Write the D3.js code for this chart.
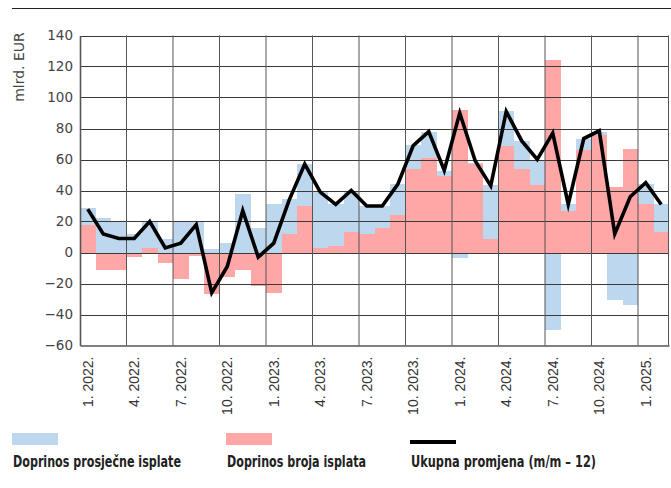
<!DOCTYPE html>
<html>
<head>
<meta charset="utf-8">
<script src="https://cdn.jsdelivr.net/npm/d3@7/dist/d3.min.js"></script>
<style>
  html, body { margin: 0; padding: 0; background: #fff; }
  svg { display: block; }
</style>
</head>
<body>
<svg id="chart" width="671" height="488"></svg>
<script>
// Monthly categories, January 2022 – February 2025
const months = [
  "1. 2022.", "2. 2022.", "3. 2022.", "4. 2022.", "5. 2022.", "6. 2022.",
  "7. 2022.", "8. 2022.", "9. 2022.", "10. 2022.", "11. 2022.", "12. 2022.",
  "1. 2023.", "2. 2023.", "3. 2023.", "4. 2023.", "5. 2023.", "6. 2023.",
  "7. 2023.", "8. 2023.", "9. 2023.", "10. 2023.", "11. 2023.", "12. 2023.",
  "1. 2024.", "2. 2024.", "3. 2024.", "4. 2024.", "5. 2024.", "6. 2024.",
  "7. 2024.", "8. 2024.", "9. 2024.", "10. 2024.", "11. 2024.", "12. 2024.",
  "1. 2025.", "2. 2025."
];

// Contribution of the average payout (mlrd. EUR)
const avgPayout = [
  11, 22, 20, 12, 17, 9, 20, 20, 2, 6, 37.5, 16,
  31, 22.5, 27, 36, 27.5, 27, 18, 14, 20.5, 15.5, 16.5, 3,
  -3.5, 1, 35, 22, 18, 16.5, -50, 4.5, 7, 2, -30.5, -34,
  13, 18
];

// Contribution of the number of payouts (mlrd. EUR)
const payoutCount = [
  18, -11, -11, -3, 3, -6.5, -17, -2, -27, -15.5, -11, -21.5,
  -26, 12, 30, 3, 4, 13, 12, 16, 24, 54, 61, 49.5,
  92, 57, 8.5, 69, 54, 43.5, 124.5, 27, 66, 76, 42.5, 67,
  31.5, 13
];

// Total change, month over month-12 (mlrd. EUR)
const totalChange = [
  28, 12, 9, 9, 20, 3, 6, 18, -26, -9, 27, -3,
  6, 34, 57, 39, 31, 40, 30, 30, 44, 69, 78, 53,
  90, 59, 43, 91, 72, 60, 77, 31, 73.5, 78.5, 12, 36,
  45, 31
];

const yTicks = [-60, -40, -20, 0, 20, 40, 60, 80, 100, 120, 140];
const xTickMonths = ["1. 2022.", "4. 2022.", "7. 2022.", "10. 2022.", "1. 2023.", "4. 2023.",
  "7. 2023.", "10. 2023.", "1. 2024.", "4. 2024.", "7. 2024.", "10. 2024.", "1. 2025."];

const seriesNames = ["Doprinos prosječne isplate", "Doprinos broja isplata", "Ukupna promjena (m/m – 12)"];
const blueFill = "#bdd7ee";
const pinkFill = "#ffa6a6";

const svg = d3.select("#chart");
const plot = { left: 80, right: 669, top: 35.5, bottom: 345.5 };

const x = d3.scaleBand().domain(months).range([plot.left, plot.right]).paddingInner(0).paddingOuter(0);
const y = d3.scaleLinear().domain([-60, 140]).range([plot.bottom, plot.top]);

// Header rule
svg.append("line")
  .attr("x1", 12).attr("x2", 671).attr("y1", 8.5).attr("y2", 8.5)
  .attr("stroke", "#222").attr("stroke-width", 1.2);

// Stacked contributions: positives and negatives stack away from zero
const rows = months.map((m, i) => ({ month: m, count: payoutCount[i], avg: avgPayout[i] }));
const stacked = d3.stack().keys(["count", "avg"]).offset(d3.stackOffsetDiverging)(rows);
const fills = { count: pinkFill, avg: blueFill };

svg.append("g").selectAll("g")
  .data(stacked)
  .join("g")
  .attr("fill", s => fills[s.key])
  .selectAll("rect")
  .data(s => s)
  .join("rect")
  .attr("x", d => x(d.data.month))
  .attr("width", x.bandwidth() + 0.3)
  .attr("y", d => y(Math.max(d[0], d[1])))
  .attr("height", d => Math.abs(y(d[0]) - y(d[1])))
  .attr("shape-rendering", "crispEdges");

// Grid over the bars
const grid = svg.append("g").attr("stroke", "#3a3a3a").attr("stroke-width", 1);
grid.selectAll("line.h")
  .data(yTicks.filter(t => t > -60))
  .join("line")
  .attr("class", "h")
  .attr("x1", plot.left).attr("x2", plot.right)
  .attr("y1", d => Math.round(y(d)) + 0.5).attr("y2", d => Math.round(y(d)) + 0.5);
grid.selectAll("line.v")
  .data(xTickMonths.slice(1))
  .join("line")
  .attr("class", "v")
  .attr("stroke", "#555")
  .attr("x1", d => x(d)).attr("x2", d => x(d))
  .attr("y1", plot.top).attr("y2", plot.bottom);
// right edge of the frame
grid.append("line")
  .attr("stroke", "#555")
  .attr("x1", plot.right - 0.5).attr("x2", plot.right - 0.5)
  .attr("y1", plot.top).attr("y2", plot.bottom);

// Axes
const yAxis = svg.append("g")
  .attr("transform", `translate(${plot.left},0)`)
  .call(d3.axisLeft(y).tickValues(yTicks).tickSize(0).tickPadding(7)
    .tickFormat(d => d < 0 ? "\u2212" + Math.abs(d) : d));
yAxis.select(".domain").attr("stroke", "#555").attr("stroke-width", 1.6);
yAxis.selectAll("text")
  .attr("font-family", "'DejaVu Sans', sans-serif")
  .attr("font-size", 13.5)
  .attr("fill", "#444");

const xAxis = svg.append("g")
  .attr("transform", `translate(0,${plot.bottom})`)
  .call(d3.axisBottom(x).tickValues(xTickMonths).tickSize(0).tickPadding(0));
xAxis.select(".domain").attr("stroke", "#555").attr("stroke-width", 1.6);
xAxis.selectAll("text")
  .attr("font-family", "'Liberation Sans', Arial, sans-serif")
  .attr("font-size", 14)
  .attr("fill", "#333")
  .attr("text-anchor", "end")
  .attr("transform", "translate(0,11) rotate(-90)")
  .attr("x", 0).attr("y", 0).attr("dy", "0.36em");

// Y axis title
svg.append("text")
  .attr("transform", "translate(24,67) rotate(-90)")
  .attr("text-anchor", "middle")
  .attr("font-family", "'DejaVu Sans', sans-serif")
  .attr("font-size", 14)
  .attr("fill", "#444")
  .text("mlrd. EUR");

// Total change line
const line = d3.line()
  .x((d, i) => x(months[i]) + x.bandwidth() / 2)
  .y(d => y(d));
svg.append("path")
  .datum(totalChange)
  .attr("fill", "none")
  .attr("stroke", "#000")
  .attr("stroke-width", 3.6)
  .attr("stroke-linejoin", "miter")
  .attr("stroke-miterlimit", 10)
  .attr("d", line);

// Legend (condensed bold labels)
const legend = svg.append("g");
const legendX = [12, 226, 410];
const legendWidths = [168, 139, 185];
legend.append("rect").attr("x", 12).attr("y", 433).attr("width", 46).attr("height", 12).attr("fill", blueFill);
legend.append("rect").attr("x", 226).attr("y", 433).attr("width", 46).attr("height", 12).attr("fill", pinkFill);
legend.append("line").attr("x1", 410).attr("x2", 456).attr("y1", 442).attr("y2", 442)
  .attr("stroke", "#000").attr("stroke-width", 4);
legend.selectAll("text")
  .data(seriesNames)
  .join("text")
  .attr("x", (d, i) => legendX[i] + 1)
  .attr("y", 467)
  .attr("font-family", "'DejaVu Sans Condensed', 'DejaVu Sans', sans-serif")
  .attr("font-weight", "bold")
  .attr("font-size", 15)
  .attr("fill", "#222")
  .attr("textLength", (d, i) => legendWidths[i])
  .attr("lengthAdjust", "spacingAndGlyphs")
  .text(d => d);
</script>
</body>
</html>
